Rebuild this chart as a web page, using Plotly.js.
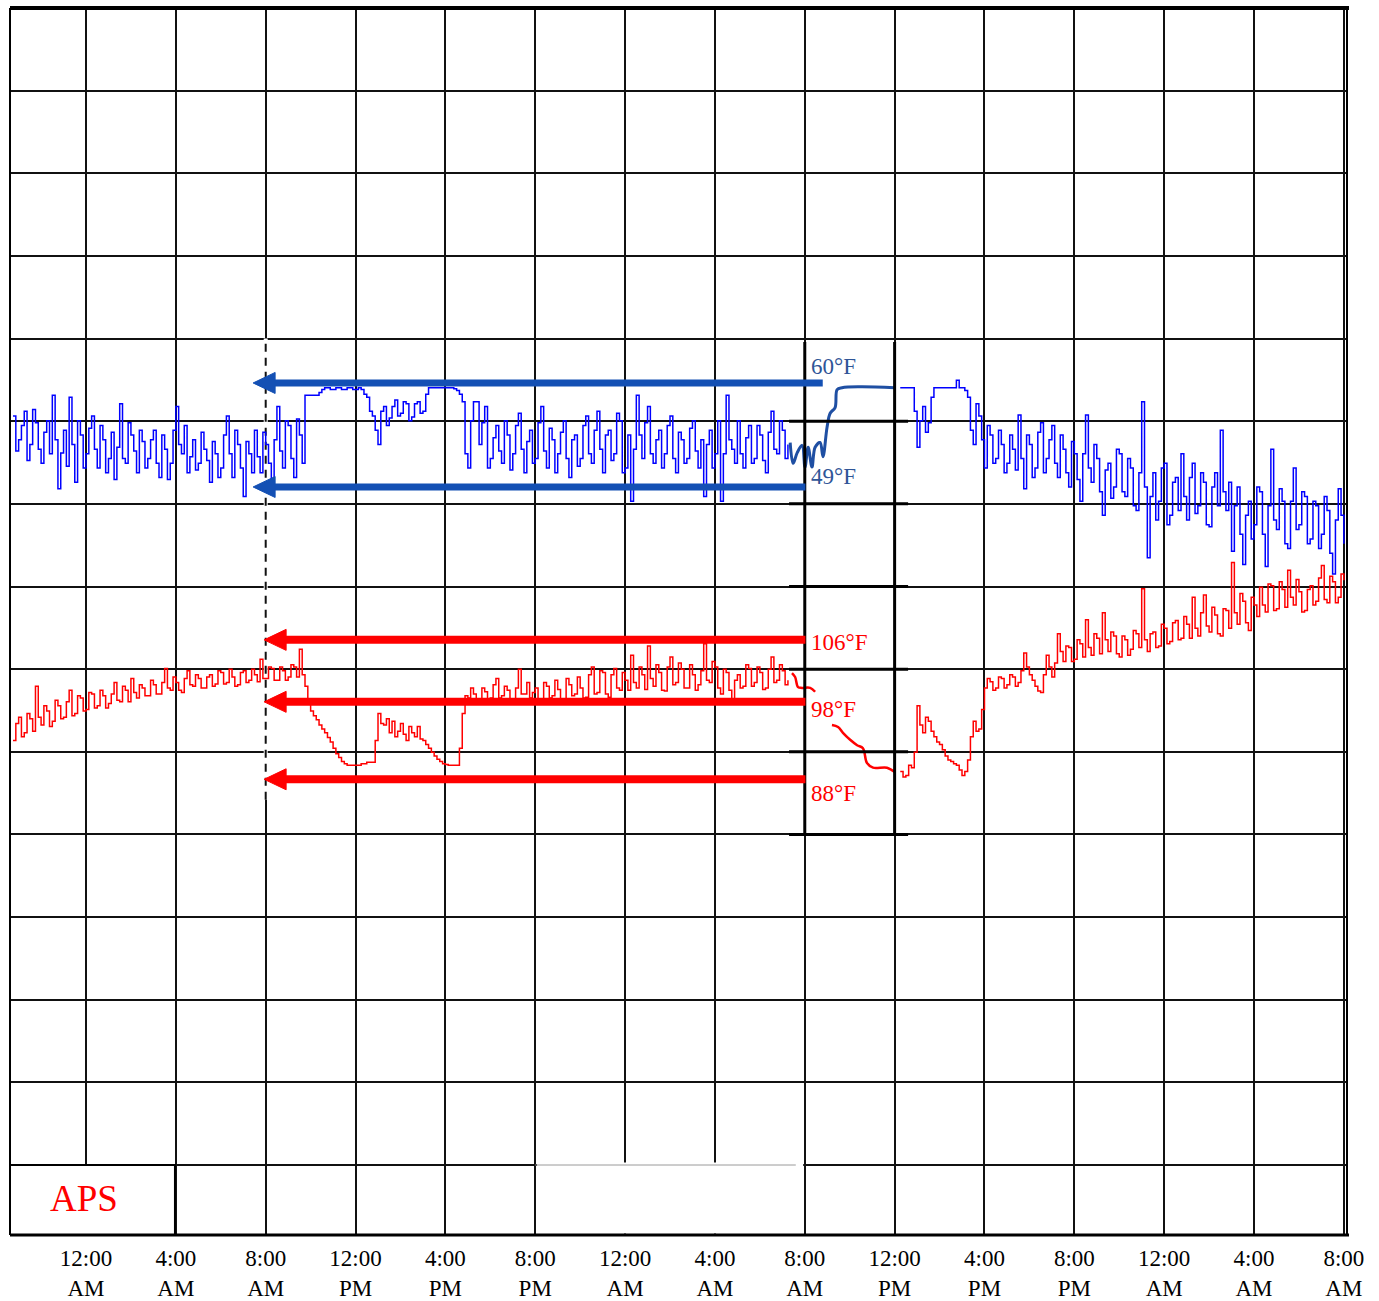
<!DOCTYPE html>
<html><head><meta charset="utf-8">
<script src="https://cdn.plot.ly/plotly-3.0.1.min.js"></script>
<style>html,body{margin:0;padding:0;background:#fff;}#chart{width:1379px;height:1301px;}</style>
</head><body><div id="chart"></div>
<script>
// ---------- data ----------
const tickHours = [0,4,8,12,16,20,24,28,32,36,40,44,48,52,56];
const tickLabels = ['12:00<br>AM','4:00<br>AM','8:00<br>AM','12:00<br>PM','4:00<br>PM','8:00<br>PM',
  '12:00<br>AM','4:00<br>AM','8:00<br>AM','12:00<br>PM','4:00<br>PM','8:00<br>PM',
  '12:00<br>AM','4:00<br>AM','8:00<br>AM'];
const sampleStepHours = 0.125;
const segment1StartHour = -3.25;
const segment2StartHour = 36.25;

const blueSeg1 = [
 56.5,52.8,54.0,55.5,57.0,51.8,53.5,57.2,55.8,53.0,
 51.5,54.8,56.0,52.5,58.7,54.0,48.8,52.6,55.0,51.2,
 58.5,53.5,49.5,56.0,54.5,51.0,52.5,55.2,56.5,53.0,
 51.0,55.5,54.0,50.5,52.0,54.8,49.8,53.2,57.8,52.0,
 51.5,55.8,54.5,52.8,50.5,55.0,53.8,51.0,52.0,54.0,
 55.0,51.5,50.0,54.5,53.0,49.8,51.5,55.0,57.5,53.5,
 52.5,55.5,50.5,52.2,54.0,50.8,51.5,54.8,53.0,51.8,
 49.5,53.8,52.5,50.0,51.0,54.5,56.5,52.5,50.0,55.0,
 53.5,51.0,48.0,53.8,52.5,50.5,55.0,52.2,50.5,54.8,
 53.5,51.5,49.5,54.0,57.5,52.8,51.0,56.0,55.5,52.0,
 50.0,56.2,54.5,51.5,
 58.7,58.7,58.7,58.7,58.7,59.0,59.3,59.5,59.5,59.3,
 59.3,59.5,59.5,59.3,59.3,59.5,59.5,59.3,59.3,59.5,
 59.3,58.8,58.5,57.0,56.5,55.0,53.5,57.0,57.5,55.5,
 56.3,57.5,58.2,56.5,56.8,58.0,57.8,56.0,56.4,57.8,
 58.0,56.8,57.0,58.8,59.5,59.5,59.5,59.5,59.5,59.5,
 59.5,59.5,59.5,59.4,59.2,58.8,58.0,52.5,51.0,56.0,
 58.0,58.0,
 53.5,55.8,57.5,51.0,52.0,54.2,55.5,52.8,51.5,56.0,
 54.5,50.8,52.5,55.5,56.8,53.0,50.5,53.8,55.0,51.5,
 52.0,55.8,57.5,52.8,51.0,55.2,54.0,50.5,52.5,54.8,
 56.0,52.0,50.0,54.0,54.5,51.2,52.0,55.5,56.5,52.5,
 51.5,55.0,57.0,53.0,50.5,54.5,55.0,51.8,52.5,56.8,
 56.0,50.5,51.0,54.5,47.5,53.0,58.7,54.5,52.0,55.8,
 57.5,52.5,51.5,54.0,55.0,51.0,52.5,55.5,56.5,52.0,
 50.5,54.8,54.0,51.5,52.0,55.2,56.0,52.8,51.0,54.0,
 48.0,53.5,55.0,51.0,52.5,56.0,47.5,52.5,58.7,54.0,
 53.0,51.5,56.0,52.5,51.0,54.2,55.5,51.5,52.0,55.5,
 54.5,51.8,50.5,54.8,57.0,53.0,52.5,56.0,55.0,52.0,
 53.5];
const blueSeg2 = [
 59.5,59.5,59.5,59.5,59.5,57.0,53.2,56.0,57.5,54.8,
 55.8,58.5,59.5,59.5,59.5,59.5,59.5,59.5,59.5,59.5,
 60.3,59.5,59.5,59.2,58.5,55.0,53.5,57.8,56.5,54.0,
 51.0,55.5,54.5,51.5,52.0,55.0,53.5,50.5,51.5,54.5,
 53.0,50.8,56.6,52.0,48.8,54.5,53.5,50.0,51.0,54.8,
 55.8,50.5,52.0,54.0,55.5,51.5,50.0,54.5,53.0,50.5,
 49.0,53.8,52.5,49.8,47.5,52.5,56.6,51.0,49.5,53.5,
 52.0,48.5,46.0,50.8,51.5,47.8,49.0,53.0,52.5,48.5,
 48.0,52.0,51.0,47.0,46.5,50.5,58.0,49.0,41.5,48.0,
 50.5,45.5,47.5,51.0,51.5,45.0,46.0,49.5,50.0,46.5,
 52.5,48.0,45.5,50.0,51.5,46.2,47.0,50.5,49.5,45.0,
 44.8,49.0,50.5,47.0,55.0,48.5,46.5,49.5,42.2,47.0,
 49.0,44.0,40.8,46.0,47.5,43.5,45.0,49.0,48.5,44.0,
 40.6,47.0,53.0,45.5,44.5,48.8,47.5,43.0,42.5,47.5,
 51.0,44.5,45.0,48.5,48.0,43.0,43.5,47.5,47.0,42.5,
 44.0,48.0,46.5,42.0,39.8,45.5,48.8,46.0,43.0];
const redSeg1 = [
 93.0,95.2,96.0,93.5,94.0,96.5,95.8,94.2,100.0,96.0,
 95.0,97.5,96.8,94.8,95.5,98.2,97.5,95.8,96.0,98.0,
 99.5,96.2,96.5,98.8,98.5,96.8,97.0,99.2,99.0,97.2,
 97.5,99.5,98.8,97.2,97.8,99.0,100.5,98.2,98.0,100.0,
 99.5,98.0,101.0,99.2,98.5,100.2,99.8,98.8,98.8,100.8,
 100.2,99.0,99.0,100.5,102.3,99.8,99.5,101.2,100.5,99.5,
 99.2,101.0,102.0,100.2,100.0,101.5,101.0,99.8,99.8,101.2,
 101.5,100.0,100.3,102.0,101.8,100.3,100.5,102.2,101.2,100.0,
 100.2,101.8,102.0,100.5,100.8,102.2,101.5,100.6,103.5,101.0,
 101.0,102.5,102.3,100.8,100.8,102.5,102.0,100.8,101.2,102.8,
 102.5,101.2,104.8,101.5,
 100.0,98.0,96.8,96.2,95.7,95.0,94.5,94.0,93.4,92.8,
 92.0,91.3,90.8,90.3,90.0,89.8,89.8,89.8,89.8,89.8,
 90.0,90.0,90.2,90.2,90.2,93.0,96.5,95.2,95.0,95.8,
 94.0,95.5,93.5,94.2,95.2,93.8,93.0,94.8,94.0,93.5,
 94.8,93.2,93.0,92.5,92.0,91.5,91.0,90.6,90.3,90.0,
 89.9,89.8,89.8,89.8,89.8,92.0,
 96.5,98.8,98.5,99.8,99.0,98.0,98.2,99.8,99.3,98.2,
 98.5,100.2,101.0,98.5,98.8,100.0,99.5,98.2,98.2,99.8,
 102.2,99.0,99.0,100.5,98.5,99.2,99.8,98.3,98.4,100.5,
 100.0,98.5,98.8,100.8,99.6,98.2,98.3,101.0,100.2,98.8,
 99.0,101.2,99.8,98.5,98.6,101.5,102.5,99.0,99.2,102.0,
 101.8,99.0,98.6,101.5,102.3,99.8,99.5,101.8,100.8,99.5,
 104.0,100.5,99.8,102.5,101.5,99.6,105.2,101.0,100.0,102.8,
 101.8,99.5,99.4,102.5,103.8,100.2,100.5,103.0,102.2,99.8,
 99.8,102.8,101.5,99.5,100.2,102.0,105.5,100.8,100.5,103.2,
 102.5,99.8,99.0,102.2,101.8,99.5,97.8,100.8,101.5,99.8,
 100.0,102.8,102.3,100.0,100.5,102.5,101.8,99.6,99.8,102.2,
 103.8,100.5,100.8,102.8,102.0,100.2,100.8];
const redSeg2 = [
 89.0,88.3,88.5,89.8,89.5,91.5,97.5,95.0,94.0,96.0,
 95.5,94.2,93.5,92.8,92.5,91.8,91.0,90.5,90.3,90.0,
 89.8,89.2,88.5,89.0,90.5,93.5,95.5,94.2,94.5,97.0,
 99.8,101.0,100.6,99.5,99.8,101.2,101.0,99.8,100.2,101.5,
 101.2,100.0,100.5,102.0,104.3,102.5,101.5,100.8,100.0,99.4,
 99.2,101.5,104.0,102.5,101.2,103.0,106.8,104.5,103.2,105.2,
 105.0,103.2,103.5,106.0,105.5,103.8,108.6,105.0,104.0,106.8,
 106.2,104.2,109.5,106.0,104.5,107.0,106.5,104.2,103.8,106.5,
 106.0,104.0,104.8,107.2,106.8,105.0,112.6,106.0,104.5,106.8,
 107.0,105.0,105.2,108.0,107.5,105.5,105.8,108.2,108.5,106.0,
 106.2,109.0,108.0,106.2,111.5,107.5,106.5,109.5,111.8,107.8,
 107.0,110.2,109.2,106.8,106.5,110.0,109.8,107.5,116.0,109.5,
 108.0,112.0,111.0,108.2,107.2,111.5,110.5,109.0,112.8,110.5,
 109.6,113.2,113.0,109.8,110.0,113.5,112.5,110.2,115.0,111.5,
 110.5,113.8,112.2,109.6,109.8,112.5,113.0,110.5,111.0,114.0,
 115.6,111.2,110.8,114.2,113.5,110.8,111.5,114.5,113.7];

// hand-sketched connecting curves inside the box
const blueSketchHours = [31.35,31.48,31.66,31.88,32.01,32.15,32.32,32.46,32.68,32.81,32.99,33.13,33.35,33.44,33.66,34.46,36.02];
const blueSketchTemps = [53.7,51.5,52.6,53.4,51.1,53.2,51.1,53.2,53.7,52.2,55.3,56.8,57.4,59.3,59.5,59.6,59.5];
const redSketch1Hours = [31.43,31.57,31.70,31.88,32.24,32.46];
const redSketch1Temps = [101.7,101.2,99.9,99.8,99.8,99.3];
const redSketch2Hours = [33.21,33.48,33.70,34.02,34.33,34.59,34.77,35.04,35.66,36.02];
const redSketch2Temps = [95.0,94.75,94.0,93.1,92.4,92.0,90.1,89.5,89.5,88.9];

const blueArrowTemps = [60,49];
const blueArrowLabels = ['60°F','49°F'];
const redArrowTemps = [106,98,88];
const redArrowLabels = ['106°F','98°F','88°F'];
const cornerLabel = 'APS';

// ---------- layout constants ----------
const W = 1379, H = 1301;
const M = {l:10, r:32, t:8, b:66};
const plotH = H - M.t - M.b;
const xRange = [-3.384, 56.14];
const gridRange = [-0.847, 14];
const blueRange = [-30.12, 99.66];
const redRange = [29.17, 187.57];
const pxPerHour = (W - M.l - M.r) / (xRange[1]-xRange[0]);
const blueUnit = plotH / (blueRange[1]-blueRange[0]);
const redUnit = plotH / (redRange[1]-redRange[0]);

const BLUE = '#0000ff', RED = '#ff0000', ARROW_BLUE = '#1450b4', SKETCH_BLUE = '#1f4fa3', LABEL_BLUE = '#2f5597';

function times(start, n){ const t=[]; for(let i=0;i<n;i++) t.push(start + i*sampleStepHours); return t; }

const traces = [
  {x: times(segment1StartHour, blueSeg1.length), y: blueSeg1, yaxis:'y2', mode:'lines', line:{color:BLUE, width:1.5, shape:'hv'}, hoverinfo:'skip'},
  {x: times(segment2StartHour, blueSeg2.length), y: blueSeg2, yaxis:'y2', mode:'lines', line:{color:BLUE, width:1.5, shape:'hv'}, hoverinfo:'skip'},
  {x: times(segment1StartHour, redSeg1.length), y: redSeg1, yaxis:'y3', mode:'lines', line:{color:RED, width:1.5, shape:'hv'}, hoverinfo:'skip'},
  {x: times(segment2StartHour, redSeg2.length), y: redSeg2, yaxis:'y3', mode:'lines', line:{color:RED, width:1.5, shape:'hv'}, hoverinfo:'skip'},
  {x: blueSketchHours, y: blueSketchTemps, yaxis:'y2', mode:'lines', line:{color:SKETCH_BLUE, width:3, shape:'spline'}, hoverinfo:'skip'},
  {x: redSketch1Hours, y: redSketch1Temps, yaxis:'y3', mode:'lines', line:{color:RED, width:2.5, shape:'spline'}, hoverinfo:'skip'},
  {x: redSketch2Hours, y: redSketch2Temps, yaxis:'y3', mode:'lines', line:{color:RED, width:2.5, shape:'spline'}, hoverinfo:'skip'}
];

const shapes = [];
const annotations = [];

// dashed look of the 8 AM line through the data band
shapes.push({type:'line', layer:'between', xref:'x', yref:'y', x0:8, x1:8, y0:4.42, y1:10, line:{color:'#ffffff', width:4}});
shapes.push({type:'line', layer:'between', xref:'x', yref:'y', x0:8, x1:8, y0:4.42, y1:10, line:{color:'#111', width:2, dash:'8px,6px'}});

// bottom row: blank stretch and the APS box
shapes.push({type:'rect', layer:'above', xref:'x', yref:'y', x0:20.08, x1:31.93, y0:-0.83, y1:0.03, fillcolor:'#fff', line:{width:0}});
shapes.push({type:'line', layer:'above', xref:'x', yref:'y', x0:20, x1:31.6, y0:0, y1:0, line:{color:'#9a9a9a', width:1}});
shapes.push({type:'rect', layer:'above', xref:'x', yref:'y', x0:xRange[0], x1:3.96, y0:gridRange[0], y1:0, fillcolor:'#fff', line:{color:'#000', width:2}});
annotations.push({text:cornerLabel, xref:'x', yref:'y', x:-0.1, y:-0.4, showarrow:false, xanchor:'center', yanchor:'middle',
  font:{family:'Liberation Serif', size:37, color:RED}});

// outer frame
shapes.push({type:'line', layer:'above', xref:'paper', yref:'paper', x0:0, x1:1.0015, y0:1, y1:1, line:{color:'#000', width:4}});
shapes.push({type:'line', layer:'above', xref:'paper', yref:'paper', x0:0, x1:1.0015, y0:0, y1:0, line:{color:'#000', width:3}});
shapes.push({type:'line', layer:'above', xref:'paper', yref:'paper', x0:0, x1:0, y0:0, y1:1, line:{color:'#000', width:2}});
shapes.push({type:'line', layer:'above', xref:'paper', yref:'paper', x0:1, x1:1, y0:0, y1:1, line:{color:'#000', width:2}});

// the drawn box
[32,36].forEach(h => shapes.push({type:'line', layer:'above', xref:'x', yref:'y', x0:h, x1:h, y0:3.99, y1:9.96, line:{color:'#000', width:3}}));
[9,8,7,6,5,4].forEach(g => shapes.push({type:'line', layer:'above', xref:'x', yref:'y', x0:31.3, x1:36.6, y0:g, y1:g, line:{color:'#000', width:3}}));

// arrows
function arrow(level, yref, unit, tipHour, tailHour, color, thick){
  const headLen = 22/pxPerHour, half = 10.5/unit;
  const base = tipHour + headLen;
  shapes.push({type:'line', layer:'above', xref:'x', yref:yref, x0:base-0.05, x1:tailHour, y0:level, y1:level, line:{color:color, width:thick}});
  shapes.push({type:'path', layer:'above', xref:'x', yref:yref,
    path:`M ${tipHour},${level} L ${base},${level+half} L ${base},${level-half} Z`, fillcolor:color, line:{color:color, width:1}});
}
blueArrowTemps.forEach((t,i) => arrow(t, 'y2', blueUnit, 7.44, i===0 ? 32.8 : 32.03, ARROW_BLUE, 7));
redArrowTemps.forEach(t => arrow(t, 'y3', redUnit, 7.93, 32.03, RED, 8));

const blueLabelShift = [16, 10];
const redLabelShift = [-3, -8, -14];
blueArrowLabels.forEach((s,i) => annotations.push({text:s, xref:'x', yref:'y2', x:32.2, y:blueArrowTemps[i], yshift:blueLabelShift[i],
  showarrow:false, xanchor:'left', yanchor:'middle', font:{family:'Liberation Serif', size:23, color:LABEL_BLUE}}));
redArrowLabels.forEach((s,i) => annotations.push({text:s, xref:'x', yref:'y3', x:32.2, y:redArrowTemps[i], yshift:redLabelShift[i],
  showarrow:false, xanchor:'left', yanchor:'middle', font:{family:'Liberation Serif', size:23, color:RED}}));

const gridRows = [];
for (let g = 0; g < 14; g++) gridRows.push(g);

const layout = {
  width: W, height: H,
  margin: {l:M.l, r:M.r, t:M.t, b:M.b, pad:0},
  paper_bgcolor:'#fff', plot_bgcolor:'#fff',
  showlegend:false,
  xaxis:{range:xRange, tickmode:'array', tickvals:tickHours, ticktext:tickLabels, showgrid:true, gridcolor:'#111', gridwidth:2,
    zeroline:false, showline:false, ticks:'', ticklabelstandoff:7, tickfont:{family:'Liberation Serif', size:23, color:'#000'}, fixedrange:true},
  yaxis:{range:gridRange, tickmode:'array', tickvals:gridRows, showticklabels:false, showgrid:true, gridcolor:'#111', gridwidth:2,
    zeroline:false, showline:false, ticks:'', fixedrange:true},
  yaxis2:{overlaying:'y', range:blueRange, visible:false, showgrid:false, zeroline:false, fixedrange:true},
  yaxis3:{overlaying:'y', range:redRange, visible:false, showgrid:false, zeroline:false, fixedrange:true},
  shapes: shapes,
  annotations: annotations
};

Plotly.newPlot('chart', traces, layout, {staticPlot:true, displayModeBar:false});
</script>
</body></html>
